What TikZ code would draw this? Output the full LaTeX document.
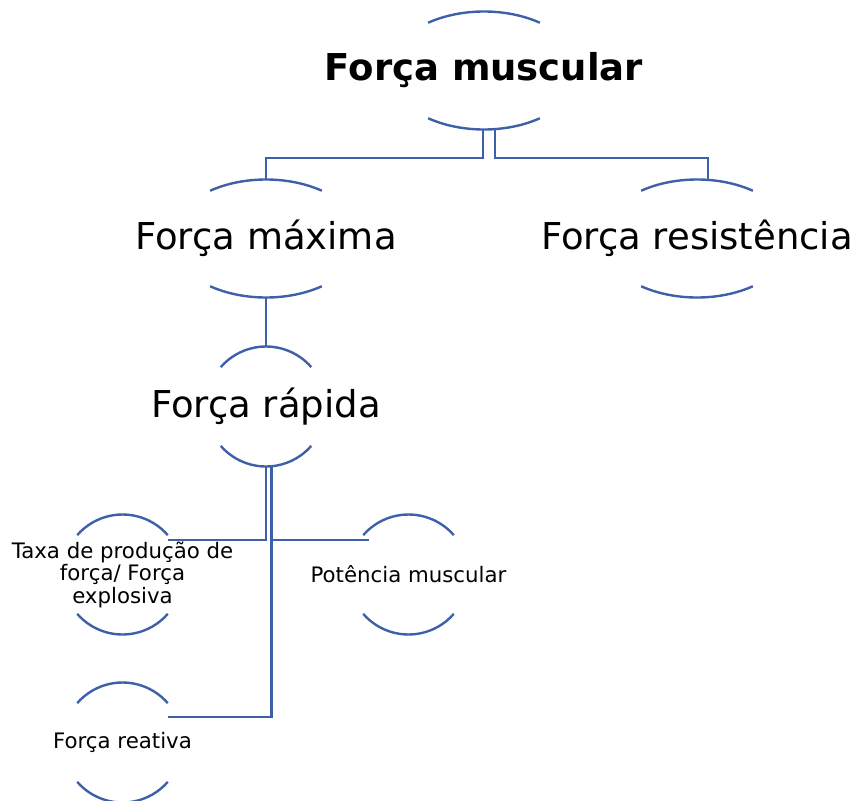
\documentclass[tikz,border=0pt]{standalone}
\usepackage{fontspec}
\setmainfont{DejaVu Sans}
\usepackage{tikz}
\usetikzlibrary{positioning}
\definecolor{linkblue}{RGB}{61,96,168}

\begin{document}
\begin{tikzpicture}[x=1pt,y=1pt,on grid,node distance=168pt and 218pt,
  big node/.style={inner sep=0pt,minimum height=119pt,font=\fontsize{37}{40}\selectfont},
  small node/.style={inner sep=0pt,minimum height=119pt,align=center,font=\fontsize{21.3}{22.5}\selectfont},
  link/.style={draw=linkblue,line width=2.4pt}]

  \useasboundingbox (0,0) rectangle (856,-800);

  \node[big node,font=\fontsize{37}{40}\selectfont\bfseries] (1) at (484,-70.5) {Força muscular};
  \node[big node] (2) [below left=168pt and 218pt of 1] {Força máxima};
  \node[big node] (3) [below right=168pt and 213pt of 1] {Força resistência};
  \node[big node] (4) [below=of 2] {Força rápida};

  \node[small node] (5) [below left=168pt and 143.5pt of 4] {Taxa de produção de\\força/ Força\\explosiva};
  \node[small node] (6) [below right=168pt and 142.5pt of 4] {Potência muscular};
  \node[small node] (7) [below=of 5] {Força reativa};

  % top and bottom arcs of each bubble
  \draw[link] (1.center) ++(54:95pt and 59pt) arc[start angle=54,end angle=126,x radius=95pt,y radius=59pt];
  \draw[link] (1.center) ++(234:95pt and 59pt) arc[start angle=234,end angle=306,x radius=95pt,y radius=59pt];
  \draw[link] (2.center) ++(54:95pt and 59pt) arc[start angle=54,end angle=126,x radius=95pt,y radius=59pt];
  \draw[link] (2.center) ++(234:95pt and 59pt) arc[start angle=234,end angle=306,x radius=95pt,y radius=59pt];
  \draw[link] (3.center) ++(54:95pt and 59pt) arc[start angle=54,end angle=126,x radius=95pt,y radius=59pt];
  \draw[link] (3.center) ++(234:95pt and 59pt) arc[start angle=234,end angle=306,x radius=95pt,y radius=59pt];
  \draw[link] (4.center) ++(41:60pt) arc[start angle=41,end angle=139,radius=60pt];
  \draw[link] (4.center) ++(221:60pt) arc[start angle=221,end angle=319,radius=60pt];
  \draw[link] (5.center) ++(41:60pt) arc[start angle=41,end angle=139,radius=60pt];
  \draw[link] (5.center) ++(221:60pt) arc[start angle=221,end angle=319,radius=60pt];
  \draw[link] (6.center) ++(41:60pt) arc[start angle=41,end angle=139,radius=60pt];
  \draw[link] (6.center) ++(221:60pt) arc[start angle=221,end angle=319,radius=60pt];
  \draw[link] (7.center) ++(41:60pt) arc[start angle=41,end angle=139,radius=60pt];
  \draw[link] (7.center) ++(221:60pt) arc[start angle=221,end angle=319,radius=60pt];

  % connectors
  \draw[link] ([xshift=-1pt]1.south) -- ++(0,-27.5) -| (2.north);
  \draw[link] ([xshift=11pt]1.south) -- ++(0,-27.5) -| ([xshift=11pt]3.north);
  \draw[link] (2.south) -- (4.north);
  \draw[link] (4.south) |- ([shift={(45.5pt,34.5pt)}]5.center);
  \draw[link] ([xshift=5.5pt]4.south) |- ([shift={(-40pt,34.5pt)}]6.center);
  \draw[link] ([xshift=5.5pt]4.south) |- ([shift={(45pt,25.5pt)}]7.center);

\end{tikzpicture}
\end{document}
